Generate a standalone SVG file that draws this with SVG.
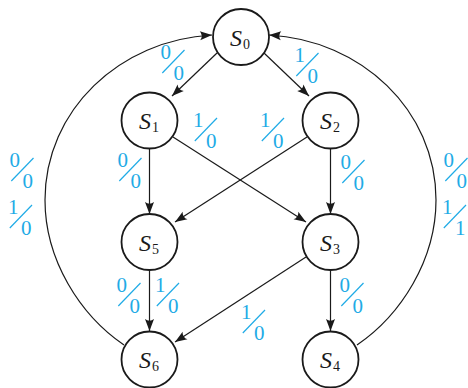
<svg xmlns="http://www.w3.org/2000/svg" width="468" height="388" viewBox="0 0 468 388">
<style>
.node circle{fill:#fff;stroke:#1a1a1a;stroke-width:1.8}
.node text{font-family:"Liberation Serif","Times New Roman",serif;font-style:italic;font-size:24px;fill:#1a1a1a}
.node tspan{font-style:normal;font-size:14px}
.edges path,.edges line{fill:none;stroke:#1a1a1a;stroke-width:1.2;marker-end:url(#arr)}
.lab text{font-family:"Liberation Serif","Times New Roman",serif;font-size:21px;fill:#1fabe6}
.lab line{stroke:#1fabe6;stroke-width:1.2}
</style>
<defs>
<marker id="arr" viewBox="-13 -6 14 12" markerWidth="14" markerHeight="12" refX="0" refY="0" orient="auto" markerUnits="userSpaceOnUse">
<path d="M0,0 L-12,-4.5 Q-8.5,0 -12,4.5 Z" fill="#1a1a1a"/>
</marker>
</defs>
<g class="edges" id="connectors">
<line x1="217" y1="53" x2="172" y2="96"/>
<line x1="264" y1="53" x2="309" y2="96"/>
<line x1="149.5" y1="149" x2="149.5" y2="214"/>
<line x1="330.5" y1="149" x2="330.5" y2="214"/>
<line x1="173" y1="137" x2="306" y2="222"/>
<line x1="307" y1="137" x2="175" y2="222"/>
<line x1="149.5" y1="270" x2="149.5" y2="331"/>
<line x1="330.5" y1="270" x2="330.5" y2="331"/>
<line x1="306" y1="257" x2="175" y2="342"/>
<path d="M124,345 C80,315 45,260 45,200 C45,110 120,40 212,35"/>
<path d="M357,345 C401,315 436,260 436,200 C436,110 361,40 269,35"/>
</g>
<g id="labels">
<g class="lab" transform="translate(160.5,59)"><text x="0" y="0">0</text><line x1="1.8" y1="14" x2="24" y2="-9"/><text x="13" y="21">0</text></g>
<g class="lab" transform="translate(294.5,62)"><text x="0" y="0">1</text><line x1="1.8" y1="14" x2="24" y2="-9"/><text x="13" y="21">0</text></g>
<g class="lab" transform="translate(193,127)"><text x="0" y="0">1</text><line x1="1.8" y1="14" x2="24" y2="-9"/><text x="13" y="21">0</text></g>
<g class="lab" transform="translate(260,127)"><text x="0" y="0">1</text><line x1="1.8" y1="14" x2="24" y2="-9"/><text x="13" y="21">0</text></g>
<g class="lab" transform="translate(117.5,167)"><text x="0" y="0">0</text><line x1="1.8" y1="14" x2="24" y2="-9"/><text x="13" y="21">0</text></g>
<g class="lab" transform="translate(340.5,169)"><text x="0" y="0">0</text><line x1="1.8" y1="14" x2="24" y2="-9"/><text x="13" y="21">0</text></g>
<g class="lab" transform="translate(116.5,292)"><text x="0" y="0">0</text><line x1="1.8" y1="14" x2="24" y2="-9"/><text x="13" y="21">0</text></g>
<g class="lab" transform="translate(155,292)"><text x="0" y="0">1</text><line x1="1.8" y1="14" x2="24" y2="-9"/><text x="13" y="21">0</text></g>
<g class="lab" transform="translate(339.5,292)"><text x="0" y="0">0</text><line x1="1.8" y1="14" x2="24" y2="-9"/><text x="13" y="21">0</text></g>
<g class="lab" transform="translate(241,319)"><text x="0" y="0">1</text><line x1="1.8" y1="14" x2="24" y2="-9"/><text x="13" y="21">0</text></g>
<g class="lab" transform="translate(9.5,167)"><text x="0" y="0">0</text><line x1="1.8" y1="14" x2="24" y2="-9"/><text x="13" y="21">0</text></g>
<g class="lab" transform="translate(8,214)"><text x="0" y="0">1</text><line x1="1.8" y1="14" x2="24" y2="-9"/><text x="13" y="21">0</text></g>
<g class="lab" transform="translate(443.5,167)"><text x="0" y="0">0</text><line x1="1.8" y1="14" x2="24" y2="-9"/><text x="13" y="21">0</text></g>
<g class="lab" transform="translate(442,214)"><text x="0" y="0">1</text><line x1="1.8" y1="14" x2="24" y2="-9"/><text x="13" y="21">1</text></g>
</g>
<g class="node" id="S0"><circle cx="241" cy="37" r="28"/><text x="230" y="45.5">S<tspan dx="1" dy="3">0</tspan></text></g>
<g class="node" id="S1"><circle cx="149.5" cy="120.5" r="28"/><text x="139" y="129">S<tspan dx="1" dy="3">1</tspan></text></g>
<g class="node" id="S2"><circle cx="330.5" cy="120.5" r="28"/><text x="320" y="129">S<tspan dx="1" dy="3">2</tspan></text></g>
<g class="node" id="S5"><circle cx="149.5" cy="242" r="28"/><text x="139" y="250.5">S<tspan dx="1" dy="3">5</tspan></text></g>
<g class="node" id="S3"><circle cx="330.5" cy="242" r="28"/><text x="320" y="250.5">S<tspan dx="1" dy="3">3</tspan></text></g>
<g class="node" id="S6"><circle cx="149.5" cy="359.5" r="28"/><text x="139" y="368">S<tspan dx="1" dy="3">6</tspan></text></g>
<g class="node" id="S4"><circle cx="330.5" cy="359.5" r="28"/><text x="320" y="368">S<tspan dx="1" dy="3">4</tspan></text></g>
</svg>
